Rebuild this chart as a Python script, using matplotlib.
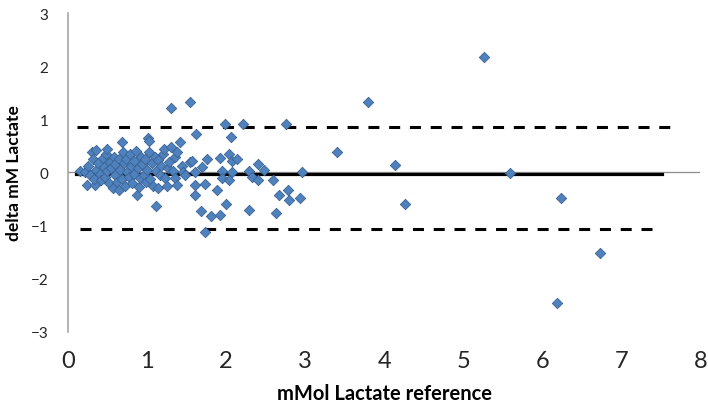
import matplotlib.pyplot as plt

# reference value (x) and difference (y) for each sample
ref_x = [
    0.15, 0.22, 0.24, 0.34, 0.25, 0.28, 0.30, 0.32, 0.33, 0.36,
    0.36, 0.38, 0.40, 0.42, 0.44, 0.45, 0.47, 0.48, 0.50, 0.50,
    0.52, 0.53, 0.55, 0.57, 0.58, 0.60, 0.60, 0.62, 0.64, 0.64,
    0.66, 0.68, 0.68, 0.70, 0.71, 0.72, 0.74, 0.75, 0.77, 0.78,
    0.80, 0.81, 0.83, 0.84, 0.86, 0.87, 0.88, 0.90, 0.91, 0.92,
    0.94, 0.96, 0.97, 0.99, 1.01, 1.03, 1.00, 1.02, 1.04, 1.06,
    1.08, 1.10, 1.12, 1.12, 1.14, 1.14, 1.16, 1.18, 1.20, 1.22,
    1.23, 1.25, 1.26, 1.28, 1.31, 1.31, 1.33, 1.35, 1.35, 1.38,
    1.38, 1.42, 1.44, 1.46, 1.48, 1.54, 1.54,
    1.57, 1.61, 1.61, 1.61, 1.62, 1.68, 1.70, 1.73, 1.73, 1.76,
    1.81, 1.88, 1.92, 1.93, 1.95, 1.95, 1.99, 2.00, 2.04, 2.04,
    2.06, 2.07, 2.07, 2.14, 2.21, 2.29, 2.29, 2.33, 2.41, 2.41,
    2.48, 2.59, 2.63, 2.67, 2.76, 2.79, 2.80, 2.94, 2.96, 3.41,
    3.80, 4.14, 4.27, 5.27, 5.59, 6.19, 6.24, 6.73,
]
delta_y = [
    0.02, 0.01, -0.24, -0.24, 0.12, -0.05, 0.39, 0.26, -0.12, 0.42,
    0.05, 0.18, -0.02, -0.15, 0.28, 0.10, -0.08, 0.35, 0.45, 0.02,
    -0.20, 0.20, 0.08, -0.30, 0.30, -0.05, 0.15, -0.18, 0.26, -0.33,
    0.05, 0.58, -0.12, 0.39, 0.18, -0.25, 0.26, 0.00, -0.08, 0.35,
    0.12, -0.20, 0.22, -0.02, 0.40, -0.42, 0.08, -0.28, -0.11, 0.30,
    0.15, -0.05, 0.25, -0.18, 0.65, 0.59, 0.05, 0.38, -0.12, 0.18,
    -0.25, 0.30, -0.64, 0.02, 0.23, -0.29, -0.05, 0.12, 0.35, 0.44,
    -0.10, -0.25, 0.08, 0.20, 0.47, 1.21, 0.02, 0.30, -0.10, 0.39,
    -0.24, 0.57, 0.12, 0.01, -0.05, 1.32, 0.20,
    0.21, 0.01, -0.23, -0.43, 0.72, -0.73, 0.11, -0.21, -1.12, 0.26,
    -0.82, -0.33, -0.80, 0.28, 0.02, -0.10, 0.91, -0.60, 0.34, -0.15,
    0.67, 0.21, 0.01, 0.26, 0.91, 0.02, -0.71, -0.08, 0.15, -0.15,
    0.04, -0.15, -0.76, -0.42, 0.92, -0.33, -0.52, -0.48, 0.00, 0.38,
    1.33, 0.14, -0.60, 2.18, -0.01, -2.46, -0.48, -1.51,
]

# bias and limits of agreement, with the x span each line covers
bias = -0.02
bias_span = [0.10, 7.52]
upper_loa = 0.85
upper_span = [0.11, 7.62]
lower_loa = -1.06
lower_span = [0.15, 7.46]

x_ticks = [0, 1, 2, 3, 4, 5, 6, 7, 8]
y_ticks = [-3, -2, -1, 0, 1, 2, 3]

plt.rcParams['font.family'] = ['Lato', 'DejaVu Sans']

fig = plt.figure(figsize=(7.08, 4.14), dpi=100)
ax = fig.add_axes([0.096, 0.196, 0.893, 0.770])

ax.axhline(0, color='#8c8c8c', lw=0.9, zorder=1)

ax.scatter(ref_x, delta_y, marker='D', s=28, color='#4f81bd',
           edgecolors='#3a6496', linewidths=0.6, zorder=3)

ax.plot(bias_span, [bias, bias], color='black', lw=2.3, zorder=2)
ax.plot(upper_span, [upper_loa, upper_loa], color='black', lw=2.2,
        dashes=(3.6, 3.2), zorder=2)
ax.plot(lower_span, [lower_loa, lower_loa], color='black', lw=2.2,
        dashes=(3.6, 3.2), zorder=2)

ax.set_xlim(0, 8)
ax.set_ylim(-3, 3)
ax.set_xticks(x_ticks)
ax.set_yticks(y_ticks)
ax.tick_params(axis='x', length=0, pad=13, labelsize=17, labelcolor='#262626')
ax.tick_params(axis='y', length=0, pad=14, labelsize=11, labelcolor='#262626')

for side in ['top', 'right', 'bottom']:
    ax.spines[side].set_visible(False)
ax.spines['left'].set_color('#a6a6a6')
ax.spines['left'].set_linewidth(1.2)

ax.set_xlabel('mMol Lactate reference', fontsize=14.5, fontweight='bold',
              labelpad=9)
ax.set_ylabel('delta mM Lactate', fontsize=12.5, fontweight='bold',
              labelpad=6)

fig.savefig('out.png', dpi=100)
